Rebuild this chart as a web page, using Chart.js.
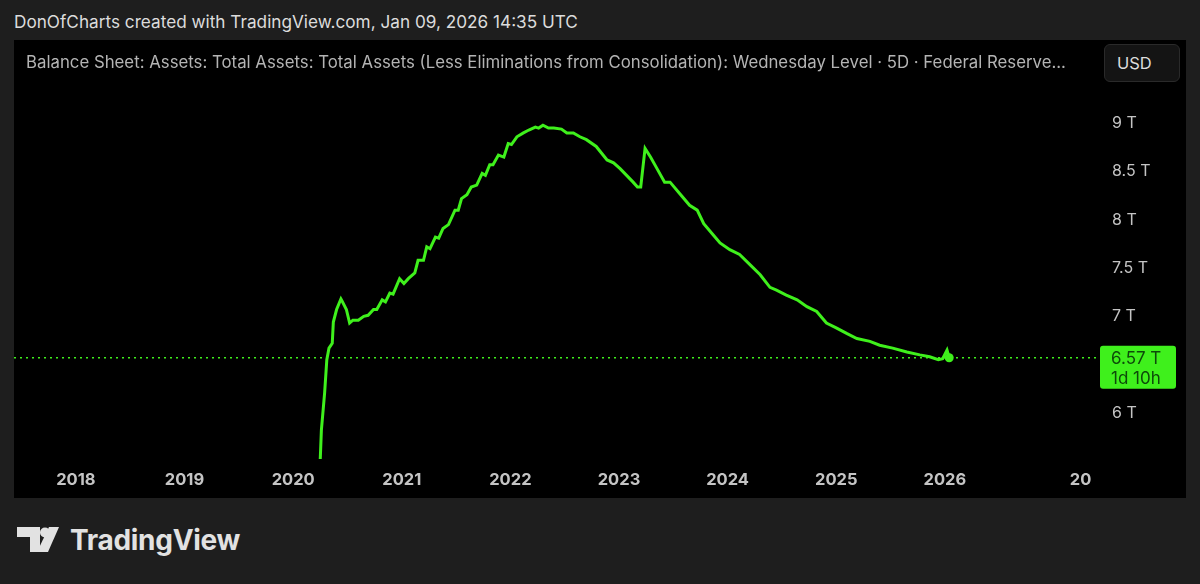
<!DOCTYPE html>
<html>
<head>
<meta charset="utf-8">
<script src="https://cdn.jsdelivr.net/npm/chart.js@4"></script>
<style>
  body { margin: 0; background: #1e1e1e; width: 1200px; height: 584px; overflow: hidden; font-family: "Inter", "Roboto", sans-serif; }
  #header { position: absolute; left: 14px; top: 11px; color: #dcdcdc; font-size: 17.2px; }
  #panel { position: absolute; left: 14px; top: 40px; width: 1172px; height: 458px; background: #000; overflow: hidden; }
  #chart { position: absolute; left: 0; top: 0; }
  #title { position: absolute; left: 12px; top: 12px; color: #b4b4b4; font-size: 16.8px; white-space: nowrap; }
  #usd { position: absolute; left: 1090px; top: 4px; width: 76px; height: 38px; border-radius: 6px;
         background: #141414; border: 1px solid #2a2a2a; color: #dcdcdc; font-size: 16.5px;
         line-height: 36px; text-align: left; padding-left: 12px; box-sizing: border-box; }
  #logo { position: absolute; left: 17px; top: 523px; display: flex; align-items: center; }
  #logo span { color: #e2e2e2; font-weight: 700; font-size: 28px; margin-left: 11px; letter-spacing: -0.3px; }
</style>
</head>
<body>
<div id="header">DonOfCharts created with TradingView.com, Jan 09, 2026 14:35 UTC</div>
<div id="panel">
  <canvas id="chart"></canvas>
  <div id="title">Balance Sheet: Assets: Total Assets: Total Assets (Less Eliminations from Consolidation): Wednesday Level · 5D · Federal Reserve...</div>
  <div id="usd">USD</div>
</div>
<div id="logo">
  <svg width="42" height="26" viewBox="0 0 42 26">
    <path d="M0 0 H23 V25 H13 V10 H0 Z" fill="#e2e2e2"/>
    <circle cx="28" cy="5.5" r="5" fill="#e2e2e2"/>
    <path d="M32 0 H42 L31 25 H20 Z" fill="#e2e2e2"/>
  </svg>
  <span>TradingView</span>
</div>
<script>
// decimal years and values in trillions USD
const dates = [2020.19, 2020.25, 2020.26, 2020.29, 2020.31, 2020.33, 2020.36, 2020.37, 2020.40, 2020.44, 2020.45,
  2020.49, 2020.52, 2020.55, 2020.60, 2020.65, 2020.69, 2020.74, 2020.77, 2020.82, 2020.85, 2020.89, 2020.92,
  2020.98, 2021.02, 2021.06, 2021.12, 2021.15, 2021.20, 2021.23, 2021.26, 2021.31, 2021.34, 2021.38, 2021.43,
  2021.49, 2021.52, 2021.55, 2021.60, 2021.64, 2021.69, 2021.74, 2021.77, 2021.81, 2021.84, 2021.89, 2021.94,
  2021.98, 2022.01, 2022.06, 2022.12, 2022.17, 2022.23, 2022.26, 2022.30, 2022.35, 2022.40, 2022.47, 2022.52,
  2022.58, 2022.64, 2022.70, 2022.79, 2022.89, 2022.95, 2023.01, 2023.07, 2023.13, 2023.17, 2023.20, 2023.24,
  2023.29, 2023.35, 2023.42, 2023.47, 2023.56, 2023.65, 2023.72, 2023.78, 2023.87, 2023.93, 2024.02, 2024.11,
  2024.21, 2024.30, 2024.39, 2024.45, 2024.54, 2024.64, 2024.73, 2024.82, 2024.91, 2025.00, 2025.10, 2025.19,
  2025.31, 2025.40, 2025.52, 2025.65, 2025.77, 2025.86, 2025.94, 2025.98, 2026.02, 2026.04];
const assets = [4.30, 5.53, 5.82, 6.21, 6.55, 6.67, 6.72, 6.94, 7.07, 7.18, 7.16,
  7.07, 6.93, 6.96, 6.96, 7.00, 7.01, 7.07, 7.07, 7.17, 7.15, 7.24, 7.23,
  7.39, 7.34, 7.39, 7.45, 7.58, 7.58, 7.72, 7.70, 7.82, 7.81, 7.91, 7.95,
  8.10, 8.10, 8.22, 8.26, 8.34, 8.36, 8.48, 8.46, 8.57, 8.57, 8.67, 8.65,
  8.79, 8.78, 8.86, 8.90, 8.93, 8.96, 8.95, 8.98, 8.95, 8.95, 8.94, 8.90,
  8.90, 8.86, 8.83, 8.76, 8.62, 8.59, 8.53, 8.46, 8.39, 8.34, 8.34, 8.74,
  8.65, 8.53, 8.39, 8.39, 8.27, 8.15, 8.10, 7.96, 7.84, 7.76, 7.69, 7.64,
  7.53, 7.43, 7.30, 7.27, 7.22, 7.17, 7.10, 7.05, 6.93, 6.88, 6.82, 6.77,
  6.74, 6.70, 6.67, 6.63, 6.60, 6.58, 6.55, 6.56, 6.65, 6.57];
const yearTicks = [2018, 2019, 2020, 2021, 2022, 2023, 2024, 2025, 2026, 2027.25];
const valueTicks = [6, 7, 7.5, 8, 8.5, 9];
const lastPrice = 6.57;
const lastLabel = ["6.57 T", "1d 10h"];

const green = "#3ff01c";
const xMin = 2017.43, xMax = 2027.41;

const priceLabel = {
  id: "priceLabel",
  afterDraw(chart) {
    const c = chart.ctx;
    const y = chart.scales.y.getPixelForValue(lastPrice);
    const x = chart.chartArea.right + 2;
    c.save();
    c.fillStyle = green;
    c.beginPath();
    c.roundRect(x, y - 12, 76, 43, 3);
    c.fill();
    c.fillStyle = "#0d4a0a";
    c.font = "17px Inter, Roboto, sans-serif";
    c.textAlign = "left";
    c.textBaseline = "middle";
    c.fillText(lastLabel[0], x + 11, y + 1);
    c.fillText(lastLabel[1], x + 11, y + 21);
    c.restore();
  }
};

const canvas = document.getElementById("chart");
canvas.width = 1172;
canvas.height = 458;

new Chart(canvas, {
  type: "line",
  data: {
    datasets: [
      {
        data: dates.map((d, i) => ({ x: d, y: assets[i] })),
        borderColor: green,
        borderWidth: 3,
        pointRadius: ctx => ctx.dataIndex === dates.length - 1 ? 4.5 : 0,
        pointBackgroundColor: green,
        pointBorderWidth: 0,
        tension: 0
      },
      {
        data: [{ x: xMin, y: lastPrice }, { x: xMax, y: lastPrice }],
        borderColor: green,
        borderWidth: 1.5,
        borderDash: [2, 4],
        pointRadius: 0
      }
    ]
  },
  options: {
    responsive: false,
    animation: false,
    layout: { padding: 0, autoPadding: false },
    plugins: { legend: { display: false }, tooltip: { enabled: false } },
    scales: {
      x: {
        type: "linear",
        min: xMin,
        max: xMax,
        afterBuildTicks: s => { s.ticks = yearTicks.map(v => ({ value: v })); },
        afterFit: s => { s.height = 39; s.paddingLeft = 0; s.paddingRight = 0; },
        grid: { display: false, drawTicks: false },
        border: { display: false },
        ticks: {
          padding: 11,
          color: "#c4c4c4",
          font: { family: "Inter, Roboto, sans-serif", size: 16.5, weight: "bold" },
          maxRotation: 0,
          autoSkip: false,
          callback: v => v === 2027.25 ? "20" : String(v)
        }
      },
      y: {
        position: "right",
        min: 5.521,
        max: 9.863,
        afterBuildTicks: s => { s.ticks = valueTicks.map(v => ({ value: v })); },
        afterFit: s => { s.width = 88; s.paddingTop = 0; s.paddingBottom = 0; },
        grid: { display: false, drawTicks: false },
        border: { display: false },
        ticks: {
          padding: 14,
          color: "#c4c4c4",
          font: { family: "Inter, Roboto, sans-serif", size: 16 },
          callback: v => v + " T"
        }
      }
    }
  },
  plugins: [priceLabel]
});
</script>
</body>
</html>
